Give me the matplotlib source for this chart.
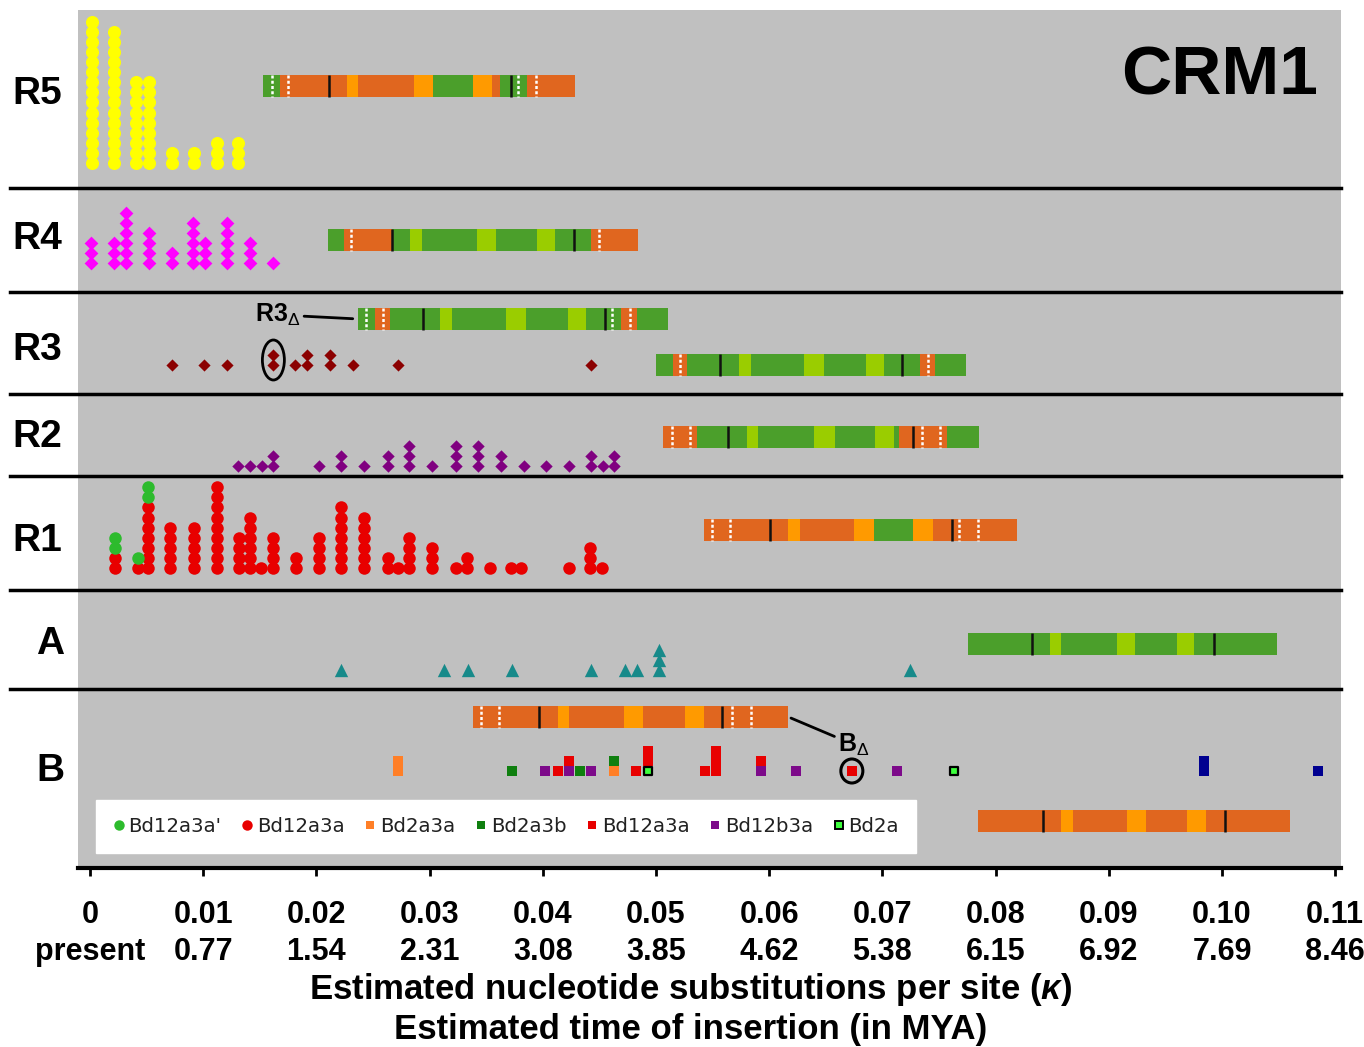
import matplotlib
matplotlib.use("Agg")
import matplotlib.pyplot as plt
from matplotlib.lines import Line2D
from matplotlib.patches import Ellipse

plt.rcParams['font.family'] = ['Liberation Sans', 'DejaVu Sans']
plt.rcParams['mathtext.fontset'] = 'custom'
plt.rcParams['mathtext.rm'] = 'Liberation Sans'
plt.rcParams['mathtext.it'] = 'Liberation Sans:italic:bold'
plt.rcParams['mathtext.bf'] = 'Liberation Sans:bold'

# ---------------- data ----------------
kappa_ticks = [0.00, 0.01, 0.02, 0.03, 0.04, 0.05, 0.06, 0.07, 0.08, 0.09, 0.10, 0.11]
kappa_labels = ["0", "0.01", "0.02", "0.03", "0.04", "0.05", "0.06", "0.07", "0.08", "0.09", "0.10", "0.11"]
mya_labels = ["present", "0.77", "1.54", "2.31", "3.08", "3.85", "4.62", "5.38", "6.15", "6.92", "7.69", "8.46"]

r5_kappa = [0.0002, 0.0021, 0.0041, 0.0052, 0.0072, 0.0092, 0.0112, 0.0131]
r5_count = [15, 14, 9, 9, 2, 2, 3, 3]

r4_kappa = [0.0001, 0.0021, 0.0032, 0.0052, 0.0072, 0.0091, 0.0102, 0.0121, 0.0141, 0.0162]
r4_count = [3, 3, 6, 4, 2, 5, 3, 5, 3, 1]

r3_kappa = [0.0072, 0.0101, 0.0121, 0.0162, 0.0181, 0.0192, 0.0212, 0.0232, 0.0272, 0.0443]
r3_count = [1, 1, 1, 2, 1, 2, 2, 1, 1, 1]

r2_kappa = [0.0131, 0.0141, 0.0152, 0.0162, 0.0202, 0.0222, 0.0242, 0.0263, 0.0282, 0.0302,
            0.0323, 0.0343, 0.0363, 0.0383, 0.0403, 0.0423, 0.0443, 0.0453, 0.0463]
r2_count = [1, 1, 1, 2, 1, 2, 1, 2, 3, 1, 3, 3, 2, 1, 1, 1, 2, 1, 2]

r1_kappa = [0.0022, 0.0042, 0.0051, 0.0071, 0.0092, 0.0112, 0.0132, 0.0141, 0.0151, 0.0162,
            0.0182, 0.0202, 0.0222, 0.0242, 0.0263, 0.0272, 0.0282, 0.0302, 0.0323, 0.0333,
            0.0353, 0.0372, 0.0381, 0.0423, 0.0442, 0.0452]
r1_red = [2, 1, 7, 5, 5, 9, 4, 6, 1, 4, 2, 4, 7, 6, 2, 1, 4, 3, 1, 2, 1, 1, 1, 1, 3, 1]
r1_green = [2, 1, 2, 0, 0, 0, 0, 0, 0, 0, 0, 0, 0, 0, 0, 0, 0, 0, 0, 0, 0, 0, 0, 0, 0, 0]

a_kappa = [0.0222, 0.0313, 0.0334, 0.0373, 0.0443, 0.0473, 0.0483, 0.0503, 0.0724]
a_count = [1, 1, 1, 1, 1, 1, 1, 3, 1]

b_kappa = [0.0272, 0.0373, 0.0402, 0.0413, 0.0423, 0.0433, 0.0443, 0.0463, 0.0482, 0.0493,
           0.0543, 0.0553, 0.0593, 0.0624, 0.0673, 0.0713, 0.0763, 0.0984, 0.1085]
# stacked subfamily codes, bottom to top
b_stack = ["oo", "g", "p", "r", "pr", "g", "p", "og", "r", "Lrr",
           "r", "rrr", "pr", "p", "r", "p", "L", "nn", "n"]

legend_labels = ["Bd12a3a'", "Bd12a3a", "Bd2a3a", "Bd2a3b", "Bd12a3a", "Bd12b3a", "Bd2a"]

# element structure diagrams (kappa start/end, blocks as fractions of length)
element_names = ["R5", "R4", "R3d", "R3", "R2", "R1", "A", "Bd", "B"]
element_start = [0.0153, 0.0210, 0.0237, 0.0500, 0.0506, 0.0542, 0.0776, 0.0338, 0.0784]
element_end = [0.0428, 0.0484, 0.0511, 0.0774, 0.0785, 0.0819, 0.1049, 0.0617, 0.1060]
element_blocks = [
    [(0, .054, 'G'), (.054, .268, 'O'), (.268, .306, 'o'), (.306, .483, 'O'), (.483, .545, 'o'),
     (.545, .674, 'G'), (.674, .735, 'o'), (.735, .762, 'O'), (.762, .848, 'G'), (.848, 1, 'O')],
    [(0, .054, 'G'), (.054, .207, 'O'), (.207, .266, 'G'), (.266, .304, 'g'), (.304, .480, 'G'),
     (.480, .542, 'g'), (.542, .675, 'G'), (.675, .732, 'g'), (.732, .850, 'G'), (.850, 1, 'O')],
    [(0, .054, 'G'), (.054, .102, 'O'), (.102, .263, 'G'), (.263, .302, 'g'), (.302, .477, 'G'),
     (.477, .540, 'g'), (.540, .676, 'G'), (.676, .735, 'g'), (.735, .848, 'G'), (.848, .898, 'O'),
     (.898, 1, 'G')],
    [(0, .054, 'G'), (.054, .101, 'O'), (.101, .266, 'G'), (.266, .305, 'g'), (.305, .476, 'G'),
     (.476, .540, 'g'), (.540, .677, 'G'), (.677, .735, 'g'), (.735, .852, 'G'), (.852, .899, 'O'),
     (.899, 1, 'G')],
    [(0, .107, 'O'), (.107, .265, 'G'), (.265, .300, 'g'), (.300, .478, 'G'), (.478, .544, 'g'),
     (.544, .671, 'G'), (.671, .733, 'g'), (.733, .749, 'G'), (.749, .899, 'O'), (.899, 1, 'G')],
    [(0, .270, 'O'), (.270, .306, 'o'), (.306, .480, 'O'), (.480, .544, 'o'), (.544, .669, 'G'),
     (.669, .732, 'o'), (.732, 1, 'O')],
    [(0, .265, 'G'), (.265, .300, 'g'), (.300, .480, 'G'), (.480, .540, 'g'), (.540, .676, 'G'),
     (.676, .731, 'g'), (.731, 1, 'G')],
    [(0, .270, 'O'), (.270, .306, 'o'), (.306, .478, 'O'), (.478, .541, 'o'), (.541, .672, 'O'),
     (.672, .734, 'o'), (.734, 1, 'O')],
    [(0, .268, 'O'), (.268, .305, 'o'), (.305, .478, 'O'), (.478, .540, 'o'), (.540, .672, 'O'),
     (.672, .731, 'o'), (.731, 1, 'O')],
]
element_black = [[.21, .796], [.207, .795], [.208, .797], [.205, .794], [.205, .791],
                 [.211, .791], [.207, .793], [.211, .79], [.209, .792]]
element_white = [[.027, .080, .82, .877], [.076, .875], [.024, .080, .818, .877], [.078, .876],
                 [.030, .085, .82, .878], [.027, .084, .816, .876], [], [.028, .085, .82, .88], []]

# ---------------- styling / layout ----------------
W, H = 1364, 1047
GRAY = '#c0c0c0'
block_col = {'G': '#4b9f2b', 'g': '#9acd00', 'O': '#e0661f', 'o': '#ff9a00'}
b_col = {'o': '#ff7f27', 'g': '#0f7f0f', 'p': '#7d0a8a', 'r': '#e80000', 'L': '#3dff3d', 'n': '#000090'}
element_y = [86, 240, 319, 365, 437, 530, 644, 717, 821]
BAR_H = 22
STEP = 10.1

fig = plt.figure(figsize=(W / 100, H / 100), dpi=100)
ax = fig.add_axes([78 / W, 1 - 868 / H, (1341 - 78) / W, (868 - 10) / H])
ax.set_facecolor(GRAY)
ax.set_xlim(-0.00106, 0.11051)
ax.set_ylim(868, 10)


def stack(xs, ns, base):
    px, py = [], []
    for x, n in zip(xs, ns):
        for i in range(n):
            px.append(x)
            py.append(base - i * STEP)
    return px, py


# R5
x, y = stack(r5_kappa, r5_count, 163)
ax.scatter(x, y, s=9.4 ** 2, marker='o', color='#ffff00', lw=0, zorder=3)
# R4
x, y = stack(r4_kappa, r4_count, 263)
ax.scatter(x, y, s=7.0 ** 2, marker='D', color='#ff00ff', lw=0, zorder=3)
# R3
x, y = stack(r3_kappa, r3_count, 365)
ax.scatter(x, y, s=6.2 ** 2, marker='D', color='#8b0000', lw=0, zorder=3)
# R2
x, y = stack(r2_kappa, r2_count, 466)
ax.scatter(x, y, s=6.3 ** 2, marker='D', color='#800080', lw=0, zorder=3)
# R1
x, y = stack(r1_kappa, r1_red, 568)
ax.scatter(x, y, s=9.0 ** 2, marker='o', color='#e80000', lw=0, zorder=3)
gx, gy = [], []
for k, nr, ng in zip(r1_kappa, r1_red, r1_green):
    for j in range(ng):
        gx.append(k)
        gy.append(568 - (nr + j) * STEP)
ax.scatter(gx, gy, s=9.0 ** 2, marker='o', color='#2dbb2d', lw=0, zorder=3)
# A
x, y = stack(a_kappa, a_count, 670)
ax.scatter(x, y, s=9.6 ** 2, marker='^', color='#178a8a', lw=0, zorder=3)
# B
for code in b_col:
    bx, by = [], []
    for k, st in zip(b_kappa, b_stack):
        for i, c in enumerate(st):
            if c == code:
                bx.append(k)
                by.append(771 - i * STEP)
    if code == 'L':
        ax.scatter(bx, by, s=6.3 ** 2, marker='s', color=b_col[code], edgecolor='black', lw=1.6, zorder=4)
    else:
        ax.scatter(bx, by, s=7.4 ** 2, marker='s', color=b_col[code], lw=0, zorder=3)

# element diagrams
for s0, e0, blocks, blk, wht, yc in zip(element_start, element_end, element_blocks,
                                        element_black, element_white, element_y):
    L = e0 - s0
    for f0, f1, key in blocks:
        ax.barh(yc, (f1 - f0) * L, left=s0 + f0 * L, height=BAR_H, color=block_col[key], lw=0, zorder=2)
    ax.vlines([s0 + f * L for f in blk], yc - BAR_H / 2, yc + BAR_H / 2, color='#111111', lw=1.8, zorder=3)
    ax.vlines([s0 + f * L for f in wht], yc - BAR_H / 2, yc + BAR_H / 2, color='white', lw=1.8,
              linestyles=(0, (1.2, 0.9)), zorder=3)

# annotations
ax.annotate('R3$_{\\Delta}$', xy=(element_start[2], element_y[2]), xytext=(-42, 3),
            textcoords='offset points', ha='right', va='center', fontsize=18, fontweight='bold',
            arrowprops=dict(arrowstyle='-', color='black', lw=2, shrinkA=1, shrinkB=4), zorder=5)
ax.annotate('B$_{\\Delta}$', xy=(element_end[7], element_y[7]), xytext=(36, -20),
            textcoords='offset points', ha='left', va='center', fontsize=18, fontweight='bold',
            arrowprops=dict(arrowstyle='-', color='black', lw=2, shrinkA=1, shrinkB=2), zorder=5)
ax.add_patch(Ellipse((r3_kappa[3], 360), 22 / 11320, 40, fill=False, ec='black', lw=2, zorder=5))
ax.add_patch(Ellipse((b_kappa[14], 771), 22 / 11320, 24, fill=False, ec='black', lw=2.2, zorder=5))

ax.text(0.982, 0.922, 'CRM1', transform=ax.transAxes, ha='right', va='center',
        fontsize=50, fontweight='bold')

# legend
handles = [
    Line2D([], [], ls='none', marker='o', markersize=7.5, markerfacecolor='#2dbb2d', markeredgewidth=0),
    Line2D([], [], ls='none', marker='o', markersize=7.5, markerfacecolor='#e80000', markeredgewidth=0),
    Line2D([], [], ls='none', marker='s', markersize=6, markerfacecolor=b_col['o'], markeredgewidth=0),
    Line2D([], [], ls='none', marker='s', markersize=6, markerfacecolor=b_col['g'], markeredgewidth=0),
    Line2D([], [], ls='none', marker='s', markersize=6, markerfacecolor=b_col['r'], markeredgewidth=0),
    Line2D([], [], ls='none', marker='s', markersize=6, markerfacecolor=b_col['p'], markeredgewidth=0),
    Line2D([], [], ls='none', marker='s', markersize=6, markerfacecolor=b_col['L'], markeredgecolor='black',
           markeredgewidth=1.4),
]
leg = ax.legend(handles, legend_labels, ncol=7, loc='lower left', mode='expand',
                bbox_to_anchor=(0.0143, 0.0175, 0.649, 0.068), borderaxespad=0,
                prop={'family': 'DejaVu Sans', 'size': 14.2}, handlelength=0.6, handletextpad=0.2,
                columnspacing=0.6, borderpad=0.85, frameon=True, fancybox=False, framealpha=1)
leg.get_frame().set_facecolor('white')
leg.get_frame().set_edgecolor('white')
for t in leg.get_texts():
    t.set_color('#222222')
leg.set_zorder(6)

# axes
for side in ['top', 'left', 'right']:
    ax.spines[side].set_visible(False)
ax.spines['bottom'].set_linewidth(3)
ax.set_yticks([])
ax.set_xticks(kappa_ticks)
ax.set_xticklabels([f"{a}\n{b}" for a, b in zip(kappa_labels, mya_labels)], fontweight='bold',
                   linespacing=1.32)
ax.tick_params(axis='x', length=6, width=2, direction='out', pad=17, labelsize=22)

# row separators and labels
for yy in [188, 292, 394, 476, 590, 689]:
    fig.add_artist(Line2D([10 / W, 1341 / W], [1 - yy / H] * 2, color='black', lw=2.5))
row_labels = ["R5", "R4", "R3", "R2", "R1", "A", "B"]
row_label_y = [94, 239, 350, 437, 541, 644, 771]
for lab, yy in zip(row_labels, row_label_y):
    if len(lab) == 1:
        fig.text(50 / W, 1 - yy / H, lab, ha='center', va='center', fontsize=28, fontweight='bold')
    else:
        fig.text(12 / W, 1 - yy / H, lab, ha='left', va='center', fontsize=28, fontweight='bold')

fig.text(691 / W, 1 - 990 / H, 'Estimated nucleotide substitutions per site ($\\kappa$)',
         ha='center', va='center', fontsize=25, fontweight='bold')
fig.text(691 / W, 1 - 1030 / H, 'Estimated time of insertion (in MYA)',
         ha='center', va='center', fontsize=25, fontweight='bold')

fig.savefig('out.png', dpi=100, facecolor='white')
